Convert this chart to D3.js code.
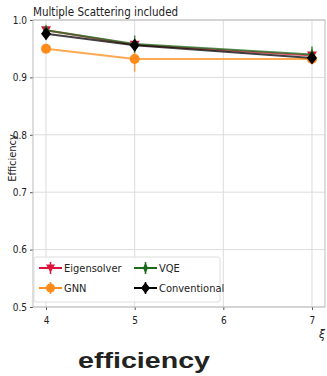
<!DOCTYPE html>
<html>
<head>
<meta charset="utf-8">
<script src="https://cdn.jsdelivr.net/npm/d3@7"></script>
<style>
  body { margin: 0; background: #fff; }
  text { font-family: "DejaVu Sans Condensed", "DejaVu Sans", sans-serif; font-stretch: condensed; }
</style>
</head>
<body>
<svg id="chart" width="327" height="376"></svg>
<script>
"use strict";

// valeurs
var xiValues = [4, 5, 7];
var xTicks = [4, 5, 6, 7];
var yTicks = [0.5, 0.6, 0.7, 0.8, 0.9, 1.0];

var eigenVals = [0.982, 0.957, 0.938];
var eigenErr = [0.006, 0.004, 0.006];
var gnnVals = [0.950, 0.932, 0.932];
var gnnErr = [0.004, 0.022, 0.004];
var vqeVals = [0.982, 0.958, 0.940];
var vqeErr = [0.005, 0.015, 0.014];
var convVals = [0.976, 0.956, 0.934];
var convErr = [0.010, 0.010, 0.009];

var seriesNames = ["Eigensolver", "GNN", "VQE", "Conventional"];
var seriesColors = ["#dc143c", "#ff8c1a", "#1a6b1a", "#000000"];

var series = [
  { name: seriesNames[0], color: seriesColors[0], vals: eigenVals, err: eigenErr, shape: "tri" },
  { name: seriesNames[1], color: seriesColors[1], vals: gnnVals, err: gnnErr, shape: "circle" },
  { name: seriesNames[2], color: seriesColors[2], vals: vqeVals, err: vqeErr, shape: "thin" },
  { name: seriesNames[3], color: seriesColors[3], vals: convVals, err: convErr, shape: "diamond" }
];

var svg = d3.select("#chart");
var pLeft = 33, pRight = 325, pTop = 20, pBottom = 307;

var x = d3.scaleLinear().domain([3.853, 7.147]).range([pLeft, pRight]);
var y = d3.scaleLinear().domain([0.5, 1.0]).range([pBottom, pTop]);

// grille
svg.append("g").selectAll("line.gx").data(xTicks).enter().append("line")
  .attr("x1", d => x(d)).attr("x2", d => x(d)).attr("y1", pTop).attr("y2", pBottom)
  .attr("stroke", "#dcdcdc").attr("stroke-width", 1);
svg.append("g").selectAll("line.gy").data(yTicks).enter().append("line")
  .attr("x1", pLeft).attr("x2", pRight).attr("y1", d => y(d)).attr("y2", d => y(d))
  .attr("stroke", "#dcdcdc").attr("stroke-width", 1);

// axes
var xAxis = svg.append("g").attr("transform", "translate(0," + pBottom + ")")
  .call(d3.axisBottom(x).tickValues(xTicks).tickFormat(d3.format("d")).tickSize(3));
var yAxis = svg.append("g").attr("transform", "translate(" + pLeft + ",0)")
  .call(d3.axisLeft(y).tickValues(yTicks).tickFormat(d3.format(".1f")).tickSize(3));
[xAxis, yAxis].forEach(a => {
  a.select(".domain").remove();
  a.selectAll("line").attr("stroke", "#555");
  a.selectAll("text").attr("font-size", 10).attr("fill", "#222")
    .style("font-family", "'DejaVu Sans Condensed', 'DejaVu Sans', sans-serif");
});
xAxis.selectAll("text").attr("dy", "1.1em");

// cadre
svg.append("rect").attr("x", pLeft).attr("y", pTop).attr("width", pRight - pLeft).attr("height", pBottom - pTop)
  .attr("fill", "none").attr("stroke", "#bbb").attr("stroke-width", 1);

function marker(g, shape, color, cx, cy, s) {
  if (shape === "circle") {
    g.append("circle").attr("cx", cx).attr("cy", cy).attr("r", s).attr("fill", color);
  } else if (shape === "tri") {
    g.append("path").attr("d", "M" + (cx - s) + "," + (cy - s * 0.8) + "L" + (cx + s) + "," + (cy - s * 0.8) + "L" + cx + "," + (cy + s) + "Z")
      .attr("fill", color);
  } else if (shape === "thin") {
    g.append("path").attr("d", "M" + cx + "," + (cy - s * 1.2) + "L" + (cx + s * 0.55) + "," + cy + "L" + cx + "," + (cy + s * 1.2) + "L" + (cx - s * 0.55) + "," + cy + "Z")
      .attr("fill", color);
  } else {
    g.append("path").attr("d", "M" + cx + "," + (cy - s * 1.3) + "L" + (cx + s) + "," + cy + "L" + cx + "," + (cy + s * 1.3) + "L" + (cx - s) + "," + cy + "Z")
      .attr("fill", color);
  }
}

var line = d3.line().x(d => x(d[0])).y(d => y(d[1]));

series.forEach(s => {
  var g = svg.append("g");
  var pts = xiValues.map((v, i) => [v, s.vals[i], s.err[i]]);
  g.append("path").datum(pts).attr("d", line)
    .attr("fill", "none").attr("stroke", s.color).attr("stroke-width", 2).attr("stroke-opacity", 0.75);
  pts.forEach(p => {
    g.append("line").attr("x1", x(p[0])).attr("x2", x(p[0]))
      .attr("y1", y(p[1] - p[2])).attr("y2", y(p[1] + p[2]))
      .attr("stroke", s.color).attr("stroke-width", 1.5).attr("stroke-opacity", 0.8);
    marker(g, s.shape, s.color, x(p[0]), y(p[1]), 5);
  });
});

// titre et libellés
svg.append("text").attr("x", pLeft).attr("y", 16).attr("font-size", 11.5).attr("fill", "#222")
  .text("Multiple Scattering included");
svg.append("text").attr("transform", "translate(16,158) rotate(-90)").attr("text-anchor", "middle")
  .attr("font-size", 11).attr("fill", "#222").text("Efficiency");
svg.append("text").attr("x", 322).attr("y", 338).attr("font-size", 12).attr("font-style", "italic")
  .attr("text-anchor", "middle").attr("fill", "#222").text("ξ");
svg.append("text").attr("x", 78).attr("y", 368)
  .attr("font-size", 22).attr("font-weight", "bold").attr("fill", "#222")
  .attr("textLength", 132).attr("lengthAdjust", "spacingAndGlyphs")
  .style("font-family", "'Liberation Sans', Arial, sans-serif").style("font-stretch", "normal")
  .text("efficiency");

// légende
var lg = svg.append("g");
lg.append("rect").attr("x", 34).attr("y", 257).attr("width", 186).attr("height", 45).attr("rx", 2)
  .attr("fill", "#fff").attr("fill-opacity", 0.85).attr("stroke", "#ddd");
var legPos = [[39, 268], [39, 288], [134, 268], [134, 288]];
series.forEach((s, i) => {
  var px = legPos[i][0], py = legPos[i][1];
  lg.append("line").attr("x1", px).attr("x2", px + 23).attr("y1", py).attr("y2", py)
    .attr("stroke", s.color).attr("stroke-width", 2);
  lg.append("line").attr("x1", px + 11.5).attr("x2", px + 11.5).attr("y1", py - 6).attr("y2", py + 6)
    .attr("stroke", s.color).attr("stroke-width", 1.5);
  marker(lg, s.shape, s.color, px + 11.5, py, 4.5);
  lg.append("text").attr("x", px + 25).attr("y", py + 4).attr("font-size", 11).attr("fill", "#222").text(s.name);
});
</script>
</body>
</html>
